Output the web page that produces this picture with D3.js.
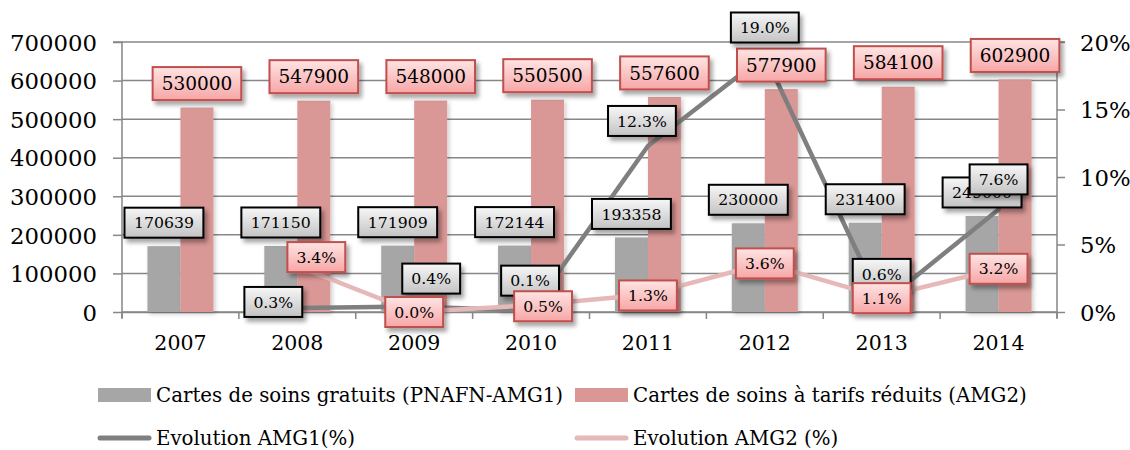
<!DOCTYPE html>
<html>
<head>
<meta charset="utf-8">
<script src="https://cdn.jsdelivr.net/npm/d3@7"></script>
<style>
  html, body { margin: 0; padding: 0; background: #fff; }
  svg { display: block; }
  text { font-family: "DejaVu Serif", "Liberation Serif", serif; fill: #000; }
</style>
</head>
<body>
<svg id="chart" width="1130" height="450"></svg>
<script>
// ---- data ----
const years = ["2007", "2008", "2009", "2010", "2011", "2012", "2013", "2014"];
const amg1Cards = [170639, 171150, 171909, 172144, 193358, 230000, 231400, 249000];
const amg2Cards = [530000, 547900, 548000, 550500, 557600, 577900, 584100, 602900];
const evoAmg1 = [null, 0.3, 0.4, 0.1, 12.3, 19.0, 0.6, 7.6];
const evoAmg2 = [null, 3.4, 0.0, 0.5, 1.3, 3.6, 1.1, 3.2];
const leftTicks = [0, 100000, 200000, 300000, 400000, 500000, 600000, 700000];
const rightTicks = [0, 5, 10, 15, 20];
const seriesNames = ["Cartes de soins gratuits (PNAFN-AMG1)", "Cartes de soins à tarifs réduits (AMG2)", "Evolution AMG1(%)", "Evolution AMG2 (%)"];

// label nudges (relative to the point), as placed in the original
const evo1LabelShift = [null, [-24, -6], [17, -28], [-1, -30], [-6, -25], [0, -28], [0, -30], [0, -30]];
const evo2LabelShift = [null, [19, -9], [0, 0], [12, 1], [0, 1], [0, 0], [0, 1], [0, 0]];

// ---- layout ----
const plot = { left: 122, right: 1057, top: 42, bottom: 312 };
const colors = {
  bar1: "#a6a6a6", bar2: "#d99795",
  line1: "#7f7f7f", line2: "#e6b9b8",
  grid: "#878787"
};

const svg = d3.select("#chart");
const defs = svg.append("defs");

const g1 = defs.append("linearGradient").attr("id", "gradGray").attr("x1", 0).attr("y1", 0).attr("x2", 0).attr("y2", 1);
g1.append("stop").attr("offset", "0%").attr("stop-color", "#f7f7f7");
g1.append("stop").attr("offset", "100%").attr("stop-color", "#c3c3c3");
const g2 = defs.append("linearGradient").attr("id", "gradPink").attr("x1", 0).attr("y1", 0).attr("x2", 0).attr("y2", 1);
g2.append("stop").attr("offset", "0%").attr("stop-color", "#ffe4e4");
g2.append("stop").attr("offset", "100%").attr("stop-color", "#f7a6a6");

const fShadow = defs.append("filter").attr("id", "boxShadow").attr("x", "-30%").attr("y", "-30%").attr("width", "160%").attr("height", "170%");
fShadow.append("feDropShadow").attr("dx", 3).attr("dy", 4).attr("stdDeviation", 2.2).attr("flood-color", "#000").attr("flood-opacity", 0.35);
const fBar = defs.append("filter").attr("id", "barShadow").attr("x", "-30%").attr("y", "-10%").attr("width", "160%").attr("height", "120%");
fBar.append("feDropShadow").attr("dx", 2).attr("dy", 2).attr("stdDeviation", 2).attr("flood-color", "#000").attr("flood-opacity", 0.2);

// ---- scales ----
const x = d3.scaleBand().domain(years).range([plot.left, plot.right]).paddingInner(0).paddingOuter(0);
const xSub = d3.scaleBand().domain(["amg1", "amg2"]).range([0, x.bandwidth()]).paddingInner(0).paddingOuter(0.7708);
const yL = d3.scaleLinear().domain([0, 700000]).range([plot.bottom, plot.top]);
const yR = d3.scaleLinear().domain([0, 20]).range([plot.bottom, plot.top]);

// ---- gridlines ----
svg.append("g").selectAll("line").data(leftTicks).join("line")
  .attr("x1", plot.left).attr("x2", plot.right)
  .attr("y1", d => yL(d)).attr("y2", d => yL(d))
  .attr("stroke", colors.grid).attr("stroke-width", 1.5);

// ---- axes ----
const axL = svg.append("g").attr("transform", `translate(${plot.left},0)`)
  .call(d3.axisLeft(yL).tickValues(leftTicks).tickSize(9).tickPadding(16).tickFormat(d3.format("d")));
axL.select(".domain").attr("stroke", colors.grid).attr("stroke-width", 1.5).attr("d", `M-9,${plot.top}H0V${plot.bottom + 6}`);
axL.selectAll(".tick line").attr("stroke", colors.grid).attr("stroke-width", 1.5);
axL.selectAll(".tick text").style("font-size", "22.8px").attr("dy", "0.36em");

const axR = svg.append("g").attr("transform", `translate(${plot.right},0)`)
  .call(d3.axisRight(yR).tickValues(rightTicks).tickSize(8).tickPadding(15).tickFormat(d => d + "%"));
axR.select(".domain").attr("stroke", colors.grid).attr("stroke-width", 1.5).attr("d", `M8,${plot.top}H0V${plot.bottom + 6}`);
axR.selectAll(".tick line").attr("stroke", colors.grid).attr("stroke-width", 1.5);
axR.selectAll(".tick text").style("font-size", "22.8px").attr("dy", "0.36em");

const axB = svg.append("g").attr("transform", `translate(0,${plot.bottom})`)
  .call(d3.axisBottom(x).tickSize(0).tickPadding(23));
axB.select(".domain").attr("stroke", colors.grid).attr("stroke-width", 1.5);
axB.selectAll(".tick text").style("font-size", "20.5px");
// boundary ticks between categories
svg.append("g").selectAll("line").data(years.concat(["end"])).join("line")
  .attr("x1", (d, i) => plot.left + i * x.step()).attr("x2", (d, i) => plot.left + i * x.step())
  .attr("y1", plot.bottom).attr("y2", plot.bottom + 7)
  .attr("stroke", colors.grid).attr("stroke-width", 1.5);

// ---- bars ----
const barG = svg.append("g");
barG.selectAll("rect.b1").data(years).join("rect").attr("class", "b1")
  .attr("x", d => x(d) + xSub("amg1")).attr("width", xSub.bandwidth())
  .attr("y", (d, i) => yL(amg1Cards[i])).attr("height", (d, i) => yL(0) - yL(amg1Cards[i]))
  .attr("fill", colors.bar1).attr("filter", "url(#barShadow)");
barG.selectAll("rect.b2").data(years).join("rect").attr("class", "b2")
  .attr("x", d => x(d) + xSub("amg2")).attr("width", xSub.bandwidth())
  .attr("y", (d, i) => yL(amg2Cards[i])).attr("height", (d, i) => yL(0) - yL(amg2Cards[i]))
  .attr("fill", colors.bar2).attr("filter", "url(#barShadow)");

// ---- lines ----
const cx = d => x(d) + x.bandwidth() / 2;
function drawLine(values, color) {
  const pts = years.map((y, i) => ({ year: y, v: values[i] }));
  const line = d3.line().defined(p => p.v !== null).x(p => cx(p.year)).y(p => yR(p.v));
  svg.append("path").datum(pts).attr("d", line)
    .attr("fill", "none").attr("stroke", color).attr("stroke-width", 4.5)
    .attr("stroke-linejoin", "round").attr("stroke-linecap", "round");
}
drawLine(evoAmg1, colors.line1);
drawLine(evoAmg2, colors.line2);

// ---- labels ----
function label(cxv, cyv, txt, opts) {
  const g = svg.append("g");
  const rect = g.append("rect");
  const t = g.append("text").attr("x", cxv).attr("y", cyv).attr("dy", "0.36em")
    .attr("text-anchor", "middle").style("font-size", opts.size + "px").text(txt);
  const w = t.node().getComputedTextLength() + 2 * opts.pad;
  rect.attr("x", cxv - w / 2).attr("y", cyv - opts.h / 2).attr("width", w).attr("height", opts.h)
    .attr("fill", opts.fill).attr("stroke", opts.stroke).attr("stroke-width", 2)
    .attr("filter", "url(#boxShadow)");
}
const grayBox = { fill: "url(#gradGray)", stroke: "#000", pad: 9.5, h: 30 };
const pinkBox = { fill: "url(#gradPink)", stroke: "#c0504d", pad: 9, h: 33 };

years.forEach((y, i) => {
  label(x(y) + xSub("amg1") + xSub.bandwidth() / 2, yL(amg1Cards[i]) - 23.5, String(amg1Cards[i]), Object.assign({ size: 15.7 }, grayBox));
});
years.forEach((y, i) => {
  label(x(y) + xSub("amg2") + xSub.bandwidth() / 2, yL(amg2Cards[i]) - 24, String(amg2Cards[i]), Object.assign({ size: 18.5 }, pinkBox));
});
years.forEach((y, i) => {
  if (evoAmg1[i] === null) return;
  const s = evo1LabelShift[i];
  label(cx(y) + s[0], yR(evoAmg1[i]) + s[1], evoAmg1[i].toFixed(1) + "%", Object.assign({ size: 15.7 }, grayBox, { pad: 9 }));
});
years.forEach((y, i) => {
  if (evoAmg2[i] === null) return;
  const s = evo2LabelShift[i];
  label(cx(y) + s[0], yR(evoAmg2[i]) + s[1], evoAmg2[i].toFixed(1) + "%", Object.assign({ size: 15.7 }, pinkBox, { pad: 9, h: 30 }));
});

// ---- legend ----
const leg = svg.append("g");
const legItems = [
  { name: seriesNames[0], type: "rect", color: colors.bar1, x: 98, y: 395 },
  { name: seriesNames[1], type: "rect", color: colors.bar2, x: 575, y: 395 },
  { name: seriesNames[2], type: "line", color: colors.line1, x: 98, y: 438 },
  { name: seriesNames[3], type: "line", color: colors.line2, x: 575, y: 438 }
];
legItems.forEach(it => {
  if (it.type === "rect") {
    leg.append("rect").attr("x", it.x).attr("y", it.y - 7).attr("width", 53).attr("height", 14).attr("fill", it.color);
  } else {
    leg.append("line").attr("x1", it.x + 2).attr("x2", it.x + 51).attr("y1", it.y).attr("y2", it.y)
      .attr("stroke", it.color).attr("stroke-width", 5).attr("stroke-linecap", "round");
  }
  leg.append("text").attr("x", it.x + 58).attr("y", it.y).attr("dy", "0.36em")
    .style("font-size", "19.8px").text(it.name);
});
</script>
</body>
</html>
